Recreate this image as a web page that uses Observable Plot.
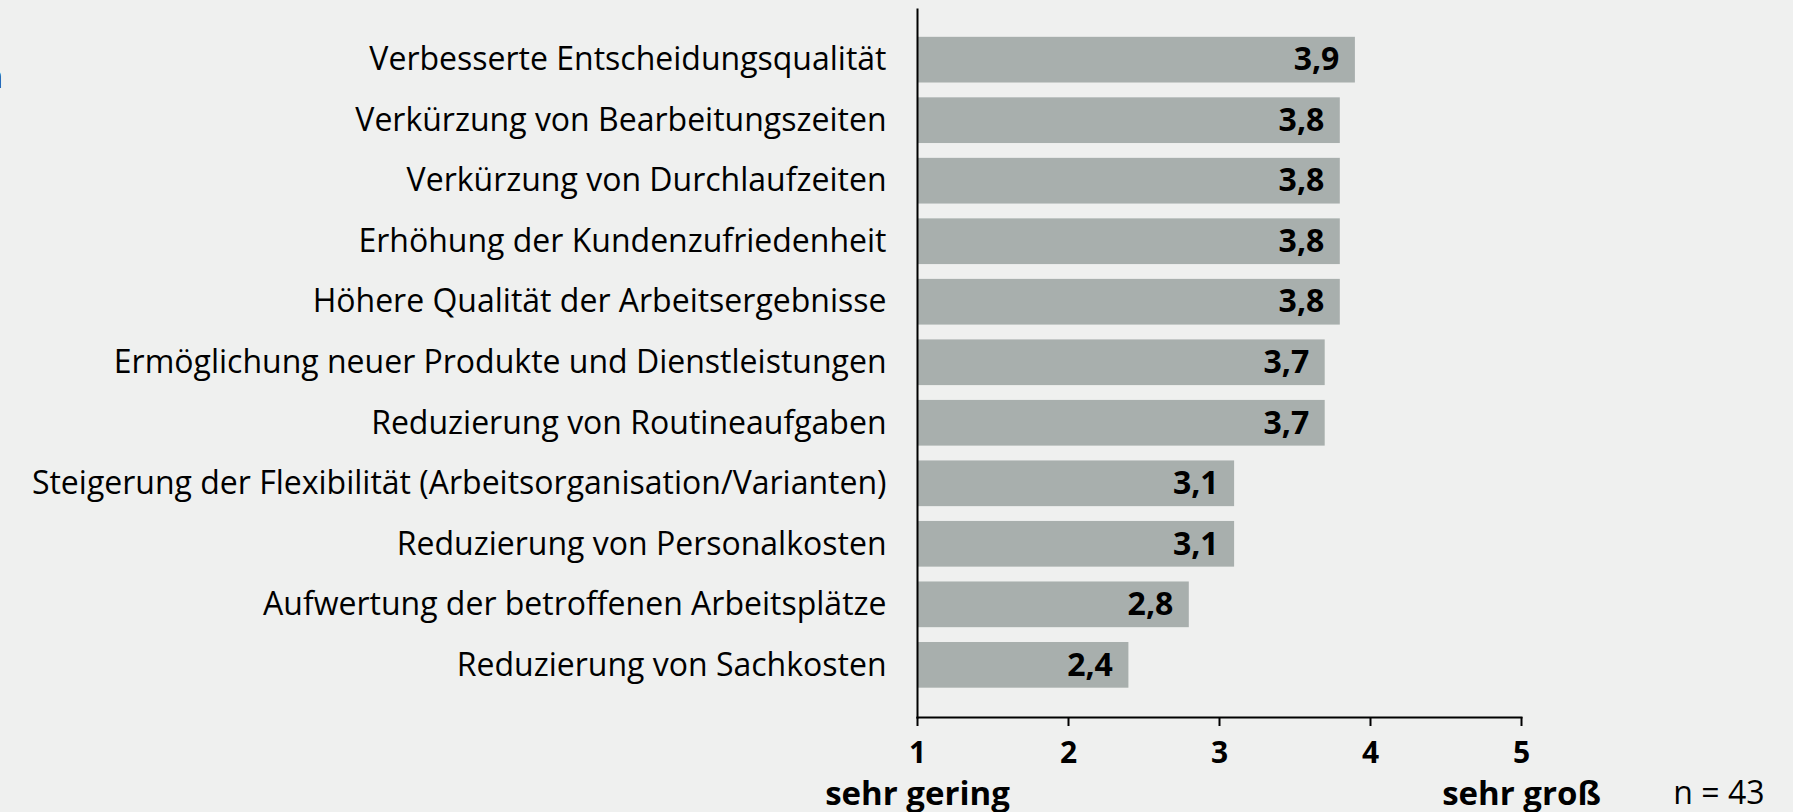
<!DOCTYPE html>
<html>
<head>
<meta charset="utf-8">
<script src="https://cdn.jsdelivr.net/npm/d3@7"></script>
<script src="https://cdn.jsdelivr.net/npm/@observablehq/plot@0.6"></script>
<style>
  html, body { margin: 0; padding: 0; background: #eff0ef; overflow: hidden; }
  #chart svg { display: block; }
</style>
</head>
<body>
<div id="chart"></div>
<script>
const categories = [
  "Verbesserte Entscheidungsqualität",
  "Verkürzung von Bearbeitungszeiten",
  "Verkürzung von Durchlaufzeiten",
  "Erhöhung der Kundenzufriedenheit",
  "Höhere Qualität der Arbeitsergebnisse",
  "Ermöglichung neuer Produkte und Dienstleistungen",
  "Reduzierung von Routineaufgaben",
  "Steigerung der Flexibilität (Arbeitsorganisation/Varianten)",
  "Reduzierung von Personalkosten",
  "Aufwertung der betroffenen Arbeitsplätze",
  "Reduzierung von Sachkosten"
];
const values = [3.9, 3.8, 3.8, 3.8, 3.8, 3.7, 3.7, 3.1, 3.1, 2.8, 2.4];
const tickValues = [1, 2, 3, 4, 5];
const scaleLabels = [{x: 1, label: "sehr gering"}, {x: 5, label: "sehr groß"}];
const sampleNote = "n = 43";

const data = categories.map((c, i) => ({cat: c, value: values[i]}));
const fmt = v => v.toFixed(1).replace(".", ",");
const font = "'Open Sans', 'Noto Sans', sans-serif";

const chart = Plot.plot({
  width: 1793,
  height: 812,
  marginLeft: 917,
  marginRight: 272,
  marginTop: 9,
  marginBottom: 95,
  style: {background: "#eff0ef", fontFamily: font, color: "#000", overflow: "visible"},
  x: {domain: [1, 5], axis: null},
  y: {domain: categories, range: [29.4, 695.1], paddingInner: 0.245, paddingOuter: 0.1225, round: false, axis: null},
  marks: [
    Plot.barX(data, {x1: 1, x2: "value", y: "cat", fill: "#a8afad"}),
    Plot.text(data, {x: "value", y: "cat", text: d => fmt(d.value), dx: -16, textAnchor: "end",
      fontWeight: "bold", fontSize: 32, fill: "#000"}),
    Plot.axisY({tickSize: 0, tickPadding: 31, fontSize: 32, fill: "#000", label: null}),
    Plot.frame({anchor: "left", stroke: "#000", strokeWidth: 2}),
    Plot.frame({anchor: "bottom", stroke: "#000", strokeWidth: 2}),
    Plot.axisX({ticks: tickValues, tickSize: 9, tickPadding: 15, fontSize: 30, fontWeight: "bold",
      tickFormat: d => String(d), stroke: "#000", strokeWidth: 2, fill: "#000", label: null}),
    Plot.text(scaleLabels, {x: "x", text: "label", frameAnchor: "bottom", dy: 87, fontSize: 33,
      fontWeight: "bold", fill: "#000"}),
    Plot.text([sampleNote], {text: d => d, frameAnchor: "bottom-right", dx: 243, dy: 86, textAnchor: "end",
      fontSize: 32, fill: "#000"}),
    Plot.text(["n"], {text: d => d, frameAnchor: "top-left", dx: -934, dy: 56, textAnchor: "start",
      fontSize: 32, fill: "#000"})
  ]
});
document.getElementById("chart").appendChild(chart);
</script>
</body>
</html>
